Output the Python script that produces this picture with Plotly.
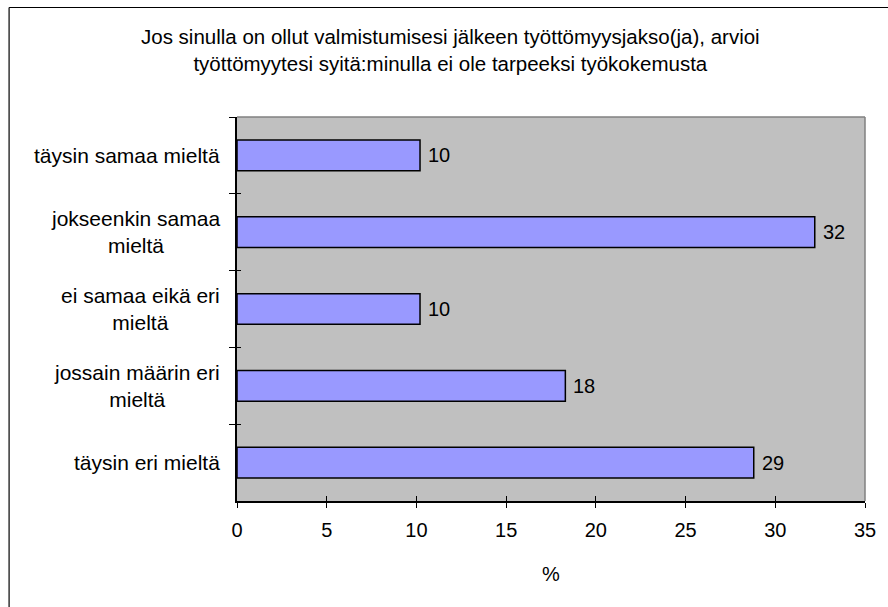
import plotly.graph_objects as go

# ---- data ----
categories = ["täysin samaa mieltä", "jokseenkin samaa mieltä", "ei samaa eikä eri mieltä",
              "jossain määrin eri mieltä", "täysin eri mieltä"]
category_labels = ["täysin samaa mieltä", "jokseenkin samaa<br>mieltä", "ei samaa eikä eri<br>mieltä",
                   "jossain määrin eri<br>mieltä", "täysin eri mieltä"]
values = [10.2, 32.2, 10.2, 18.3, 28.8]
x_ticks = [0, 5, 10, 15, 20, 25, 30, 35]
title_text = ("Jos sinulla on ollut valmistumisesi jälkeen työttömyysjakso(ja), arvioi<br>"
              "työttömyytesi syitä:minulla ei ole tarpeeksi työkokemusta")
x_title = "%"

# ---- layout geometry (pixels) ----
W, H = 888, 607
L, R, T, B = 237, 868, 117, 501
PW, PH = R - L, B - T


def px(x):
    return (x - L) / PW


def py(y):
    return (B - y) / PH


FONT = "Liberation Sans, Arial, sans-serif"
FS_TITLE = 20.5
FS_CAT = 21
FS_TICK = 20

fig = go.Figure()
fig.add_trace(go.Bar(
    x=values, y=categories, orientation="h",
    marker=dict(color="#9999FF", line=dict(color="black", width=1.5)),
    width=0.4, hoverinfo="x+y", showlegend=False,
))

annotations = []
# category labels (centered multi-line, right edge near axis)
for cat, lab in zip(categories, category_labels):
    annotations.append(dict(x=px(222), xref="paper", y=cat, yref="y", text=lab,
                            xanchor="right", yanchor="middle", align="center",
                            showarrow=False, font=dict(size=FS_CAT, color="black", family=FONT)))
# value labels
for cat, v in zip(categories, values):
    annotations.append(dict(x=v, xref="x", y=cat, yref="y", text=f"{round(v):d}",
                            xanchor="left", yanchor="middle", xshift=6,
                            showarrow=False, font=dict(size=FS_TICK, color="black", family=FONT)))
# title
annotations.append(dict(x=px(452), xref="paper", y=py(50), yref="paper", text=title_text,
                        xanchor="center", yanchor="middle", align="center", showarrow=False,
                        font=dict(size=FS_TITLE, color="black", family=FONT)))
# x axis title
annotations.append(dict(x=0.5, xref="paper", y=py(574), yref="paper", text=x_title,
                        xanchor="center", yanchor="middle", showarrow=False,
                        font=dict(size=FS_TICK, color="black", family=FONT)))

shapes = [
    # plot-area gray border top & right
    dict(type="line", xref="paper", yref="paper", x0=0, y0=1, x1=1, y1=1,
         line=dict(color="#808080", width=1.5)),
    dict(type="line", xref="paper", yref="paper", x0=1, y0=0, x1=1, y1=1,
         line=dict(color="#808080", width=1.5)),
    # outer chart frame (left and top)
    dict(type="line", xref="paper", yref="paper", x0=px(8), y0=py(7.5), x1=px(895), y1=py(7.5),
         line=dict(color="black", width=1.2)),
    dict(type="line", xref="paper", yref="paper", x0=px(8), y0=py(7.5), x1=px(8), y1=py(620),
         line=dict(color="black", width=1.2)),
]

fig.update_layout(
    width=W, height=H, autosize=False,
    margin=dict(l=L, r=W - R, t=T, b=H - B, pad=0),
    paper_bgcolor="white", plot_bgcolor="#C0C0C0",
    font=dict(family=FONT, size=FS_TICK, color="black"),
    annotations=annotations, shapes=shapes,
    xaxis=dict(range=[0, 35], tickvals=x_ticks, ticks="outside", ticklen=5, tickwidth=1,
               tickcolor="black", showline=True, linecolor="black", linewidth=1.5,
               showgrid=False, zeroline=False, ticklabelstandoff=5,
               tickfont=dict(size=FS_TICK, family=FONT, color="black")),
    xaxis2=dict(range=[0, 35], tickvals=x_ticks, ticks="inside", ticklen=5, tickwidth=1,
                tickcolor="black", overlaying="x", showticklabels=False, showgrid=False,
                zeroline=False, showline=False, matches="x"),
    yaxis=dict(type="category", categoryorder="array", categoryarray=categories,
               range=[4.5, -0.5], showticklabels=False, ticks="outside", tickson="boundaries",
               ticklen=6, tickwidth=1, tickcolor="black", showline=True, linecolor="black",
               linewidth=1.5, showgrid=False, zeroline=False),
    yaxis2=dict(range=[4.5, -0.5], tickvals=[-0.5, 0.5, 1.5, 2.5, 3.5, 4.5], ticks="inside",
                ticklen=4, tickwidth=1, tickcolor="black", overlaying="y",
                showticklabels=False, showgrid=False, zeroline=False, showline=False),
)
# invisible trace to activate overlay axes
fig.add_trace(go.Scatter(x=[0], y=[0], xaxis="x2", yaxis="y2", mode="markers",
                         marker=dict(opacity=0), hoverinfo="skip", showlegend=False))

fig.write_html("out.html", config={"displayModeBar": False},
               post_script="document.body.style.margin='0';document.body.style.overflow='hidden';")
